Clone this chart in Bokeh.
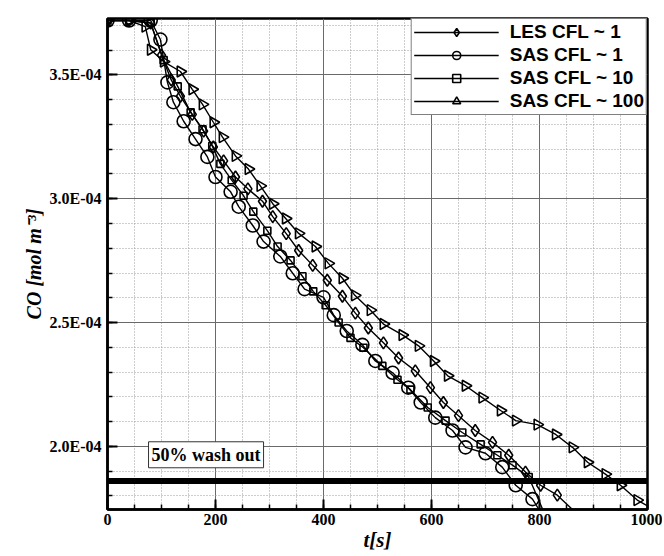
import numpy as np
from bokeh.plotting import figure
from bokeh.models import (SingleIntervalTicker, CustomJSTickFormatter, Legend, LegendItem,
                          Label, Span, Range1d)
from bokeh.embed import file_html
from bokeh.resources import INLINE

# ---- data (CO in 1e-4 mol m^-3, t in s) ----
t_les = [0, 40, 80, 100, 118, 135, 157, 178, 196, 215, 237, 260, 287, 306, 331, 354, 380, 407, 435,
         459, 483, 511, 539, 570, 598, 622, 650, 681, 713, 743, 774, 802, 833, 861]
co_les = [3.72, 3.72, 3.71, 3.58, 3.48, 3.414, 3.341, 3.273, 3.209, 3.153, 3.088, 3.04, 2.99, 2.928,
          2.859, 2.791, 2.731, 2.671, 2.606, 2.538, 2.478, 2.418, 2.357, 2.305, 2.237, 2.177, 2.124,
          2.064, 2.016, 1.964, 1.896, 1.843, 1.803, 1.745]

t_sas1 = [0, 40, 80, 98, 111, 122, 141, 163, 185, 200, 228, 243, 269, 289, 320, 343, 365, 400, 419,
          443, 472, 496, 528, 557, 580, 607, 639, 663, 700, 731, 756, 787, 799]
co_sas1 = [3.72, 3.72, 3.72, 3.643, 3.47, 3.39, 3.313, 3.241, 3.169, 3.088, 3.028, 2.968, 2.892,
           2.827, 2.767, 2.699, 2.635, 2.602, 2.53, 2.466, 2.41, 2.345, 2.297, 2.237, 2.177, 2.116,
           2.064, 1.996, 1.972, 1.916, 1.843, 1.787, 1.745]

t_sas10 = [0, 40, 80, 104, 130, 154, 176, 194, 209, 230, 252, 270, 296, 315, 339, 361, 381, 404,
           428, 450, 474, 509, 537, 561, 593, 626, 657, 691, 722, 750, 780, 806]
co_sas10 = [3.72, 3.72, 3.71, 3.56, 3.454, 3.349, 3.281, 3.213, 3.141, 3.075, 3.012, 2.948, 2.871,
            2.807, 2.751, 2.687, 2.626, 2.570, 2.50, 2.438, 2.398, 2.325, 2.269, 2.229, 2.157, 2.104,
            2.056, 2.008, 1.964, 1.924, 1.876, 1.745]

t_sas100 = [0, 40, 70, 80, 104, 135, 157, 176, 196, 213, 237, 261, 283, 306, 330, 354, 385, 409,
            435, 458, 487, 511, 546, 576, 604, 630, 663, 694, 728, 756, 796, 830, 861, 889, 922,
            950, 981, 1000]
co_sas100 = [3.72, 3.72, 3.695, 3.602, 3.554, 3.514, 3.442, 3.381, 3.309, 3.249, 3.173, 3.12, 3.052,
             2.98, 2.92, 2.86, 2.807, 2.739, 2.679, 2.61, 2.55, 2.494, 2.45, 2.406, 2.345, 2.285,
             2.245, 2.197, 2.145, 2.104, 2.088, 2.048, 1.996, 1.936, 1.888, 1.843, 1.783, 1.76]

co_initial = 3.72e-4
washout_level = 0.5 * co_initial
washout_text = "50% wash out"

series = [
    ("LES CFL ~ 1", t_les, co_les, "diamond", 12, 0.0),
    ("SAS CFL ~ 1", t_sas1, co_sas1, "circle", 13, 0.0),
    ("SAS CFL ~ 10", t_sas10, co_sas10, "square", 7, 0.0),
    ("SAS CFL ~ 100", t_sas100, co_sas100, "triangle", 11, -np.pi / 2),
]

p = figure(width=662, height=554, output_backend="svg", toolbar_location=None,
           x_range=Range1d(0, 1000), y_range=Range1d(1.745e-4, 3.728e-4),
           min_border_left=107, min_border_right=15, min_border_top=18, min_border_bottom=42)
p.background_fill_color = "white"
p.border_fill_color = "white"
p.outline_line_color = "black"
p.outline_line_width = 2.5

# axes
p.xaxis.ticker = SingleIntervalTicker(interval=200, num_minor_ticks=4)
p.yaxis.ticker = SingleIntervalTicker(interval=0.5e-4, num_minor_ticks=5)
p.yaxis.formatter = CustomJSTickFormatter(code="""
const s = tick.toExponential(1);
const parts = s.split('e');
const e = parseInt(parts[1]);
const sign = e < 0 ? '-' : '+';
const a = Math.abs(e);
return parts[0] + 'E' + sign + (a < 10 ? '0' + a : '' + a);
""")
for ax in (p.xaxis[0], p.yaxis[0]):
    ax.axis_line_width = 2.5
    ax.axis_line_color = "black"
    ax.major_tick_in = 10
    ax.major_tick_out = 0
    ax.minor_tick_in = 5
    ax.minor_tick_out = 0
    ax.major_tick_line_width = 2
    ax.minor_tick_line_width = 1.5
    ax.major_label_text_font = "Liberation Serif"
    ax.major_label_text_font_style = "bold"
    ax.major_label_text_font_size = "16px"
    ax.major_label_text_color = "black"
    ax.axis_label_text_font = "Liberation Serif"
    ax.axis_label_text_font_style = "bold italic"
    ax.axis_label_text_color = "black"

p.xaxis.axis_label = "t[s]"
p.xaxis.axis_label_text_font_size = "21px"
p.xaxis.major_label_standoff = 4
p.xaxis.axis_label_standoff = 0
p.yaxis.axis_label = "CO [mol m\u207b\u00b3]"
p.yaxis.axis_label_text_font_size = "20px"
p.yaxis.major_label_standoff = 6
p.yaxis.axis_label_standoff = 2

# grids
for g in (p.xgrid[0], p.ygrid[0]):
    g.grid_line_color = "#6a6a6a"
    g.grid_line_width = 1
    g.minor_grid_line_color = "#9a9a9a"
    g.minor_grid_line_dash = "1 2"
    g.minor_grid_line_width = 1

# wash-out level
p.add_layout(Span(location=washout_level, dimension="width", line_color="black", line_width=6))
p.add_layout(Label(x=76, y=1.966e-4, text=washout_text, text_font="Liberation Serif",
                   text_font_style="bold", text_font_size="18px", text_baseline="middle",
                   text_color="black", background_fill_color="white",
                   border_line_color="#333333", border_line_width=1, padding=3))

items = []
for name, t, co, marker, size, angle in series:
    tt = np.array(t, dtype=float)
    cc = np.array(co, dtype=float) * 1e-4
    r_line = p.line(tt, cc, line_color="black", line_width=1.4)
    r_mark = p.scatter(tt[:-1], cc[:-1], marker=marker, size=size, angle=angle,
                       line_color="black", line_width=1.6, fill_color=None)
    items.append(LegendItem(label=name, renderers=[r_line, r_mark]))

legend = Legend(items=items, location="top_right", margin=0, padding=2, spacing=1,
                glyph_width=85, glyph_height=20, label_standoff=11, label_height=20,
                label_text_font="Liberation Sans", label_text_font_style="bold",
                label_text_font_size="19px", label_text_color="black",
                border_line_color="black", border_line_width=1,
                background_fill_color="white", background_fill_alpha=1.0)
p.add_layout(legend)

open("out.html", "w").write(file_html(p, INLINE))
